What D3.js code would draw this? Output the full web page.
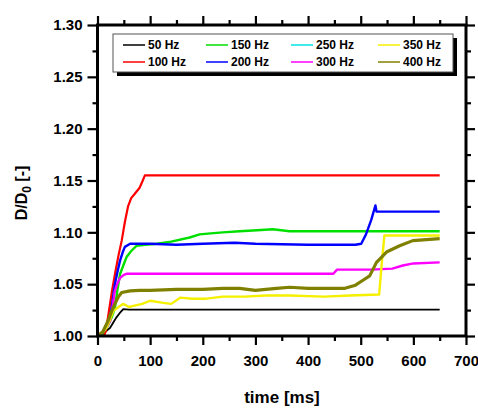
<!DOCTYPE html>
<html>
<head>
<meta charset="utf-8">
<script src="https://cdn.jsdelivr.net/npm/d3@7"></script>
<style>
  body { margin: 0; background: #fff; }
  svg { font-family: "Liberation Sans", Arial, sans-serif; font-weight: bold; }
</style>
</head>
<body>
<div id="chart"></div>
<script>
// series: [time ms, D/D0]
const hz50 = [[0,1.0],[10,1.002],[17,1.005],[24,1.008],[30,1.013],[36,1.018],[42,1.022],[49,1.026],[60,1.0255],[650,1.0255]];
const hz100 = [[0,1.0],[12,1.0],[16,1.005],[22,1.025],[28,1.045],[34,1.062],[40,1.078],[46,1.092],[52,1.11],[58,1.125],[64,1.133],[72,1.138],[80,1.143],[86,1.15],[90,1.155],[650,1.155]];
const hz150 = [[0,1.0],[10,1.003],[20,1.01],[27,1.018],[33,1.027],[38,1.045],[43,1.06],[49,1.068],[55,1.076],[64,1.082],[74,1.087],[90,1.088],[113,1.089],[140,1.091],[175,1.095],[194,1.098],[215,1.099],[238,1.100],[270,1.101],[303,1.102],[333,1.103],[365,1.101],[420,1.101],[500,1.101],[650,1.101]];
const hz250 = [[0,1.0],[5,1.001],[10,1.003]];
const hz200 = [[0,1.0],[10,1.004],[18,1.012],[24,1.018],[29,1.035],[33,1.05],[38,1.062],[43,1.073],[48,1.081],[52,1.086],[62,1.089],[100,1.089],[150,1.088],[200,1.089],[260,1.09],[300,1.089],[400,1.088],[490,1.088],[501,1.089],[510,1.098],[520,1.112],[528,1.126],[530,1.12],[650,1.12]];
const hz300 = [[0,1.0],[10,1.004],[18,1.009],[24,1.0145],[29,1.03],[33,1.0435],[38,1.051],[43,1.056],[50,1.059],[55,1.06],[200,1.06],[350,1.06],[448,1.06],[455,1.064],[520,1.064],[560,1.065],[580,1.068],[600,1.07],[650,1.071]];
const hz350 = [[0,1.0],[10,1.004],[17,1.008],[24,1.016],[30,1.024],[40,1.028],[49,1.031],[60,1.028],[68,1.029],[85,1.031],[100,1.034],[125,1.032],[140,1.031],[157,1.037],[180,1.036],[207,1.036],[238,1.038],[280,1.038],[320,1.039],[365,1.039],[430,1.038],[480,1.039],[535,1.040],[540,1.07],[545,1.097],[650,1.097]];
const hz400 = [[0,1.0],[10,1.004],[20,1.0145],[27,1.024],[33,1.031],[40,1.038],[46,1.042],[62,1.0435],[80,1.044],[100,1.044],[150,1.045],[200,1.045],[238,1.046],[270,1.046],[300,1.044],[340,1.046],[365,1.047],[400,1.046],[440,1.046],[470,1.046],[490,1.049],[505,1.054],[517,1.058],[530,1.071],[549,1.081],[574,1.087],[599,1.092],[625,1.093],[650,1.094]];

const seriesNames = ['50 Hz','100 Hz','150 Hz','200 Hz','250 Hz','300 Hz','350 Hz','400 Hz'];
const seriesData = [hz50, hz100, hz150, hz200, hz250, hz300, hz350, hz400];
const seriesColors = ['#000000','#ff0000','#00e000','#0000ff','#00e5e5','#ff00ff','#f5f000','#808000'];
const seriesWidths = [1.8, 2.2, 2.4, 2.4, 1.8, 2.4, 2.4, 3.2];

const xTicks = [0,100,200,300,400,500,600,700];
const yTicks = [1.00,1.05,1.10,1.15,1.20,1.25,1.30];

const width = 478, height = 408;
const margin = { top: 25, right: 12, bottom: 72, left: 97.5 };
const plotW = width - margin.left - margin.right;
const plotH = height - margin.top - margin.bottom;

const svg = d3.select('#chart').append('svg')
  .attr('width', width)
  .attr('height', height);

const x = d3.scaleLinear().domain([0, 700]).range([0, plotW]);
const y = d3.scaleLinear().domain([1.0, 1.3]).range([plotH, 0]);

const g = svg.append('g')
  .attr('transform', 'translate(' + margin.left + ',' + margin.top + ')');

// lines
const line = d3.line()
  .x(d => x(d[0]))
  .y(d => y(d[1]));

const drawOrder = [0, 1, 2, 4, 3, 5, 6, 7];
drawOrder.forEach(i => {
  g.append('path')
    .datum(seriesData[i])
    .attr('fill', 'none')
    .attr('stroke', seriesColors[i])
    .attr('stroke-width', seriesWidths[i])
    .attr('stroke-linejoin', 'round')
    .attr('d', line);
});

// frame
g.append('rect')
  .attr('width', plotW)
  .attr('height', plotH)
  .attr('fill', 'none')
  .attr('stroke', '#000')
  .attr('stroke-width', 3);

// axes (ticks outward on all four sides)
function styleAxis(sel) {
  sel.select('.domain').remove();
  sel.selectAll('line').attr('stroke', '#000').attr('stroke-width', 2.2);
}
const xMinor = d3.range(50, 700, 100);
const yMinor = d3.range(1.025, 1.3, 0.05);

const bottom = g.append('g').attr('transform', 'translate(0,' + plotH + ')')
  .call(d3.axisBottom(x).tickValues(xTicks).tickSize(9).tickPadding(10).tickFormat(d3.format('d')));
styleAxis(bottom);
bottom.selectAll('text').attr('font-size', 15).attr('font-weight', 'bold').attr('fill', '#000')
  .attr('font-family', '"Liberation Sans", Arial, sans-serif');
g.append('g').attr('transform', 'translate(0,' + plotH + ')')
  .call(d3.axisBottom(x).tickValues(xMinor).tickSize(5).tickFormat('')).call(styleAxis);

const left = g.append('g')
  .call(d3.axisLeft(y).tickValues(yTicks).tickSize(10).tickPadding(5).tickFormat(d3.format('.2f')));
styleAxis(left);
left.selectAll('text').attr('font-size', 15).attr('font-weight', 'bold').attr('fill', '#000')
  .attr('font-family', '"Liberation Sans", Arial, sans-serif');
g.append('g').call(d3.axisLeft(y).tickValues(yMinor).tickSize(5).tickFormat('')).call(styleAxis);

g.append('g').call(d3.axisTop(x).tickValues(xTicks).tickSize(9).tickFormat('')).call(styleAxis);
g.append('g').call(d3.axisTop(x).tickValues(xMinor).tickSize(5).tickFormat('')).call(styleAxis);
g.append('g').attr('transform', 'translate(' + plotW + ',0)')
  .call(d3.axisRight(y).tickValues(yTicks).tickSize(9).tickFormat('')).call(styleAxis);
g.append('g').attr('transform', 'translate(' + plotW + ',0)')
  .call(d3.axisRight(y).tickValues(yMinor).tickSize(5).tickFormat('')).call(styleAxis);

// axis titles
svg.append('text')
  .attr('x', 282).attr('y', 403)
  .attr('text-anchor', 'middle')
  .attr('font-size', 17)
  .text('time [ms]');

const yt = svg.append('text')
  .attr('transform', 'translate(27,193) rotate(-90)')
  .attr('text-anchor', 'middle')
  .attr('font-size', 16);
yt.append('tspan').text('D/D');
yt.append('tspan').attr('font-size', 12).attr('dy', 4).text('0');
yt.append('tspan').attr('dy', -4).text(' [-]');

// legend
const lg = svg.append('g');
lg.append('rect').attr('x', 117).attr('y', 38).attr('width', 340).attr('height', 38).attr('fill', '#000');
lg.append('rect').attr('x', 113).attr('y', 34).attr('width', 340).attr('height', 38)
  .attr('fill', '#fff').attr('stroke', '#555').attr('stroke-width', 1);

const legCols = [123, 206, 291, 378];
const legRows = [45, 62];
const legOrder = [[0, 2, 4, 6], [1, 3, 5, 7]];
legOrder.forEach((row, r) => {
  row.forEach((si, c) => {
    const lx = legCols[c], ly = legRows[r];
    lg.append('line')
      .attr('x1', lx).attr('x2', lx + 22)
      .attr('y1', ly).attr('y2', ly)
      .attr('stroke', seriesColors[si]).attr('stroke-width', 1.5);
    lg.append('text')
      .attr('x', lx + 25).attr('y', ly + 4)
      .attr('font-size', 12)
      .text(seriesNames[si]);
  });
});
</script>
</body>
</html>
